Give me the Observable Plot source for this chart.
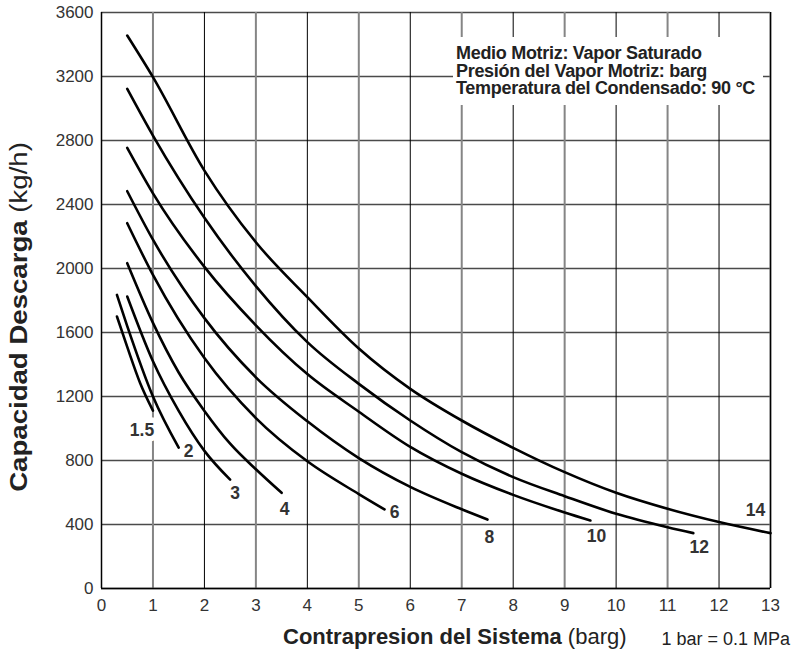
<!DOCTYPE html>
<html><head><meta charset="utf-8">
<script src="https://cdn.jsdelivr.net/npm/d3@7"></script>
<script src="https://cdn.jsdelivr.net/npm/@observablehq/plot@0.6"></script>
<style>
body{margin:0;background:#fff;}
</style></head><body><div id="chart"></div>
<script>
// ---- data ----
const xTicks = [0,1,2,3,4,5,6,7,8,9,10,11,12,13];
const yTicks = [0,400,800,1200,1600,2000,2400,2800,3200,3600];

const x_p1_5 = [0.3,0.5,0.75,1];
const y_p1_5 = [1700,1510,1285,1112];
const x_p2 = [0.3,0.5,1,1.5];
const y_p2 = [1835,1640,1200,880];
const x_p3 = [0.5,1,1.5,2,2.5];
const y_p3 = [1825,1420,1110,860,680];
const x_p4 = [0.5,1,1.5,2,2.5,3,3.5];
const y_p4 = [2033,1660,1350,1110,905,745,598];
const x_p6 = [0.5,1,2,3,4,5,5.5];
const y_p6 = [2283,1960,1440,1065,795,590,494];
const x_p8 = [0.5,1,2,3,4,5,6,7,7.5];
const y_p8 = [2483,2180,1690,1320,1045,815,635,495,431];
const x_p10 = [0.5,1,2,3,4,5,6,7,8,9,9.5];
const y_p10 = [2754,2470,2010,1645,1340,1105,885,717,585,475,425];
const x_p12 = [0.5,1,2,3,4,5,6,7,8,9,10,11,11.5];
const y_p12 = [3123,2831,2317,1890,1540,1279,1050,852,696,577,467,383,346];
const x_p14 = [0.5,1,2,3,4,5,6,7,8,9,10,11,12,13];
const y_p14 = [3456,3196,2612,2164,1821,1500,1248,1050,879,727,598,498,415,346];

const pressures = ["1.5","2","3","4","6","8","10","12","14"];
const seriesX = [x_p1_5,x_p2,x_p3,x_p4,x_p6,x_p8,x_p10,x_p12,x_p14];
const seriesY = [y_p1_5,y_p2,y_p3,y_p4,y_p6,y_p8,y_p10,y_p12,y_p14];

const noteLines = ["Medio Motriz: Vapor Saturado","Presión del Vapor Motriz: barg","Temperatura del Condensado: 90 °C"];

// ---- styling (label offsets in px from each curve's end) ----
const labelOffsets = {"1.5":[-11,20],"2":[10,4],"3":[5,14],"4":[3,17],"6":[10,3],"8":[2,18],"10":[6,16],"12":[6,14],"14":[-15,-23]};
const FONT = "'Liberation Sans', Arial, Helvetica, sans-serif";

const rows = pressures.flatMap((p,k) => seriesX[k].map((x,i) => ({p, x, y: seriesY[k][i]})));

const labelMarks = pressures.map((p,k) => {
  const n = seriesX[k].length;
  const [dx,dy] = labelOffsets[p];
  const opts = {x:"x", y:"y", text:"t", dx, dy, fontWeight:"bold", fontSize:17.5, fill:"#333"};
  if (p === "1.5") Object.assign(opts, {stroke:"#fff", strokeWidth:11, paintOrder:"stroke", strokeLinejoin:"round"});
  return Plot.text([{x: seriesX[k][n-1], y: seriesY[k][n-1], t: p}], opts);
});

const oddX = xTicks.filter(v => v % 2 === 1);
const evenX = xTicks.filter(v => v % 2 === 0 && v > 0);

const svg = Plot.plot({
  width: 792, height: 655,
  marginLeft: 101, marginRight: 22, marginTop: 12, marginBottom: 67,
  style: {fontFamily: FONT, fontSize: "17px", color: "#333", background: "#fff", overflow: "visible"},
  x: {domain: [0,13], ticks: xTicks, tickSize: 0, tickPadding: 10, label: null, tickFormat: d => String(d)},
  y: {domain: [0,3600], ticks: yTicks, tickSize: 0, tickPadding: 8, label: null, tickFormat: d => String(d)},
  marks: [
    Plot.ruleY(yTicks, {stroke: "#4a4a4a", strokeWidth: 1.3}),
    Plot.ruleX(oddX, {stroke: "#858585", strokeWidth: 2}),
    Plot.ruleX(evenX, {stroke: "#000", strokeWidth: 1}),
    Plot.ruleX([0], {stroke: "#000", strokeWidth: 1.5}),
    Plot.ruleX([13], {stroke: "#000", strokeWidth: 1.3}),
    Plot.ruleY([0], {stroke: "#000", strokeWidth: 1.5}),
    Plot.line(rows, {x: "x", y: "y", z: "p", curve: "monotone-x", stroke: "#000", strokeWidth: 2.6}),
    ...labelMarks
  ]
});
document.getElementById("chart").appendChild(svg);

const s = d3.select(svg);
// note box
const g = s.append("g").attr("text-anchor", "start");
g.append("rect").attr("x", 453).attr("y", 37).attr("width", 310).attr("height", 68).attr("fill", "#fff");
noteLines.forEach((t,i) => {
  g.append("text").attr("x", 456).attr("y", 59 + i*17.5).attr("text-anchor", "start")
   .attr("font-family", FONT).attr("font-weight", "bold").attr("font-size", 18)
   .attr("letter-spacing", "-0.3px").attr("fill", "#222").text(t);
});
// x title
const xt = s.append("text").attr("x", 283).attr("y", 644).attr("text-anchor", "start")
  .attr("font-family", FONT).attr("font-size", 22).attr("fill", "#222");
xt.append("tspan").attr("font-weight", "bold").text("Contrapresion del Sistema");
xt.append("tspan").text(" (barg)");
s.append("text").attr("x", 790).attr("y", 645).attr("text-anchor", "end").attr("font-family", FONT)
  .attr("font-size", 18).attr("fill", "#222").text("1 bar = 0.1 MPa");
// y title
const yt = s.append("text").attr("transform", "translate(27,317) rotate(-90) scale(1.15,1)").attr("text-anchor", "middle")
  .attr("font-family", FONT).attr("font-size", 24).attr("fill", "#222");
yt.append("tspan").attr("font-weight", "bold").text("Capacidad Descarga");
yt.append("tspan").text(" (kg/h)");
</script></body></html>
